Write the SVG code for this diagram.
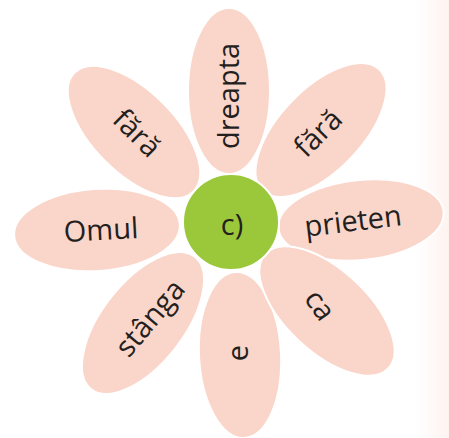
<svg xmlns="http://www.w3.org/2000/svg" width="449" height="438" viewBox="0 0 449 438">
<defs>
<linearGradient id="edge" x1="0" y1="0" x2="1" y2="0">
<stop offset="0" stop-color="#ffffff"/>
<stop offset="1" stop-color="#fef3f0"/>
</linearGradient>
</defs>
<style>
.petal{fill:#fad5c9;stroke:#ffffff;stroke-width:2}
.core{fill:#9ac83a;stroke:#ffffff;stroke-width:2}
.lbl{font-family:"Open Sans","Liberation Sans",sans-serif;font-size:29px;fill:#231f20;text-anchor:middle}
</style>
<rect x="0" y="0" width="449" height="438" fill="#ffffff"/>
<rect x="415" y="0" width="34" height="438" fill="url(#edge)"/>
<g id="petal-dreapta">
<ellipse class="petal" cx="229" cy="91" rx="41" ry="83"/>
<text class="lbl" transform="translate(229,96) rotate(-90)" y="10">dreapta</text>
</g>
<g id="petal-fara-left">
<ellipse class="petal" cx="134" cy="132" rx="84" ry="41" transform="rotate(45 134 132)"/>
<text class="lbl" transform="translate(137,133) rotate(45)" y="10">fără</text>
</g>
<g id="petal-fara-right">
<ellipse class="petal" cx="321" cy="130" rx="84" ry="41" transform="rotate(-46 321 130)"/>
<text class="lbl" transform="translate(318,133) rotate(-45)" y="10">fără</text>
</g>
<g id="petal-prieten">
<ellipse class="petal" cx="361" cy="220" rx="83" ry="40" transform="rotate(-6 361 220)"/>
<text class="lbl" transform="translate(353,221) rotate(-7)" y="10">prieten</text>
</g>
<g id="petal-omul">
<ellipse class="petal" cx="97" cy="230" rx="83" ry="41" transform="rotate(-4 97 230)"/>
<text class="lbl" transform="translate(101,230) rotate(-3)" y="10">Omul</text>
</g>
<g id="petal-stanga">
<ellipse class="petal" cx="143" cy="323" rx="84" ry="41" transform="rotate(-52 143 323)"/>
<text class="lbl" transform="translate(150,318) rotate(-50)" y="10">stânga</text>
</g>
<g id="petal-e">
<ellipse class="petal" cx="240" cy="355" rx="41" ry="83" transform="rotate(-3 240 355)"/>
<text class="lbl" transform="translate(238,353) rotate(-90)" y="10">e</text>
</g>
<g id="petal-ca">
<ellipse class="petal" cx="327" cy="311" rx="84" ry="41" transform="rotate(43 327 311)"/>
<text class="lbl" transform="translate(320,305) rotate(55)" y="10">ca</text>
</g>
<g id="center">
<circle class="core" cx="231" cy="222" r="48"/>
<text class="lbl" x="232" y="235">c)</text>
</g>
</svg>
